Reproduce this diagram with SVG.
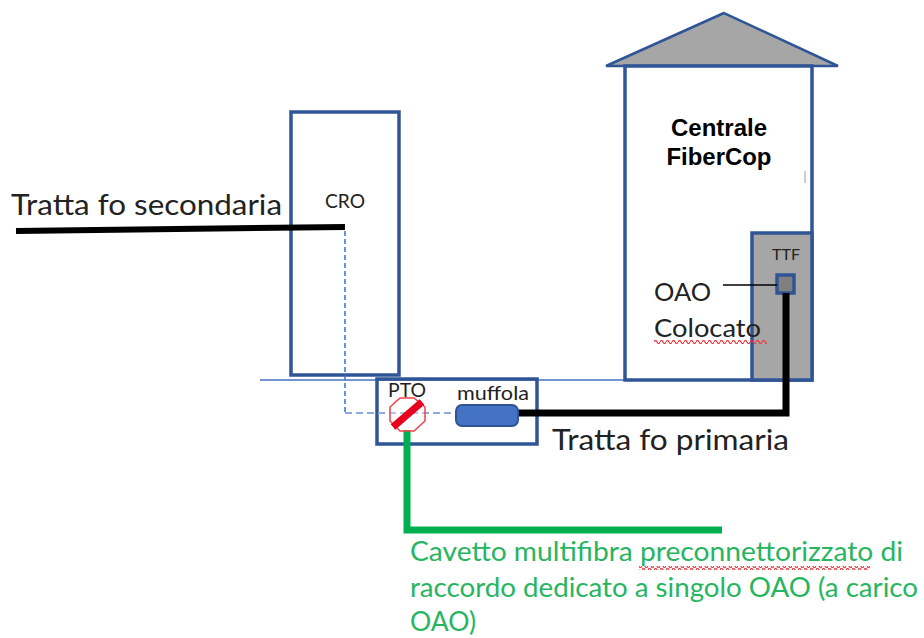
<svg xmlns="http://www.w3.org/2000/svg" width="924" height="638" viewBox="0 0 924 638">
<defs>
<pattern id="wavy" width="6" height="4" patternUnits="userSpaceOnUse"><path d="M0 2q1.5 -3 3 0t3 0" fill="none" stroke="#f0303a" stroke-width="1.2"/></pattern>
</defs>
<style>
.b{fill:none;stroke:#2f5597;stroke-width:3.5}
.t{font-family:Lato,"Open Sans",sans-serif;fill:#222}
.g{font-family:Lato,"Open Sans",sans-serif;fill:#27b561;font-size:26px}
.a{font-family:"Liberation Sans",Arial,sans-serif;font-weight:bold;font-size:23px;fill:#000;text-anchor:middle}
</style>
<rect width="924" height="638" fill="#fff"/>
<g id="ground"><line x1="260" y1="380" x2="625" y2="380" stroke="#4472c4" stroke-width="1.5"/></g>
<g id="centrale">
<polygon points="724,13 606,66 838,66" fill="#a6a6a6" stroke="#2f5597" stroke-width="2.5"/>
<rect x="625" y="66" width="187" height="314" class="b" style="fill:#fff"/>
<rect x="752" y="233" width="60" height="147" fill="#a6a6a6" stroke="#2f5597" stroke-width="3.5"/>
<text class="a" x="719" y="136" textLength="96" lengthAdjust="spacingAndGlyphs">Centrale</text>
<text class="a" x="719" y="165" textLength="105" lengthAdjust="spacingAndGlyphs">FiberCop</text>
<line x1="805" y1="171" x2="805" y2="183" stroke="#999" stroke-width="1"/>
</g>
<g id="ttf">
<text class="t" x="786" y="260" font-size="16" text-anchor="middle" textLength="28" lengthAdjust="spacingAndGlyphs">TTF</text>
<rect x="777" y="275" width="17" height="18" fill="#808080" stroke="#2f5597" stroke-width="3.5"/>
</g>
<g id="oao">
<text class="t" x="654" y="301" font-size="25" textLength="57" lengthAdjust="spacingAndGlyphs">OAO</text>
<text class="t" x="654" y="337" font-size="25" textLength="107" lengthAdjust="spacingAndGlyphs">Colocato</text>
<rect x="654" y="340" width="113" height="4" fill="url(#wavy)"/>
</g>
<g id="cro">
<rect x="291" y="112" width="108" height="263" class="b"/>
<text class="t" x="345" y="208" font-size="19" text-anchor="middle" textLength="40" lengthAdjust="spacingAndGlyphs">CRO</text>
</g>
<g id="pto-box">
<rect x="377" y="379" width="160" height="65" class="b"/>
</g>
<g id="connectors">
<path d="M345 231V413" fill="none" stroke="#2e75d6" stroke-width="1.5" stroke-dasharray="5 3"/>
<path d="M345 413H456" fill="none" stroke="#8faadc" stroke-width="2" stroke-dasharray="7 4"/>
<line x1="16" y1="231" x2="345" y2="227" stroke="#000" stroke-width="6"/>
<path d="M518 413H786V293" fill="none" stroke="#000" stroke-width="7"/>
<path d="M407 430V530H722" fill="none" stroke="#00b050" stroke-width="7"/>
<line x1="723" y1="285" x2="777" y2="285" stroke="#000" stroke-width="1.5"/>
</g>
<g id="pto">
<text class="t" x="407" y="397" font-size="19" text-anchor="middle" textLength="38" lengthAdjust="spacingAndGlyphs">PTO</text>
<polygon points="400,398 414,398 425,407 425,421 414,431 400,431 390,421 390,407" fill="#fff" fill-opacity="0.3" stroke="#f04048" stroke-width="1.5"/>
<line x1="393" y1="427" x2="422" y2="402" stroke="#e8001c" stroke-width="7"/>
</g>
<g id="muffola">
<text class="t" x="493" y="400" font-size="19" text-anchor="middle" textLength="72" lengthAdjust="spacingAndGlyphs">muffola</text>
<rect x="456" y="405" width="62" height="21" rx="6" fill="#4472c4" stroke="#2f5597" stroke-width="2"/>
</g>
<g id="labels">
<text class="t" x="11" y="215" font-size="28" textLength="271" lengthAdjust="spacingAndGlyphs">Tratta fo secondaria</text>
<text class="t" x="552" y="450" font-size="28" textLength="237" lengthAdjust="spacingAndGlyphs">Tratta fo primaria</text>
<text class="g" x="410" y="561" textLength="493" lengthAdjust="spacingAndGlyphs">Cavetto multifibra preconnettorizzato di</text>
<text class="g" x="410" y="597" textLength="508" lengthAdjust="spacingAndGlyphs">raccordo dedicato a singolo OAO (a carico</text>
<text class="g" x="410" y="631" textLength="66" lengthAdjust="spacingAndGlyphs">OAO)</text>
<rect x="639" y="566" width="231" height="4" fill="url(#wavy)"/>
</g>
</svg>
